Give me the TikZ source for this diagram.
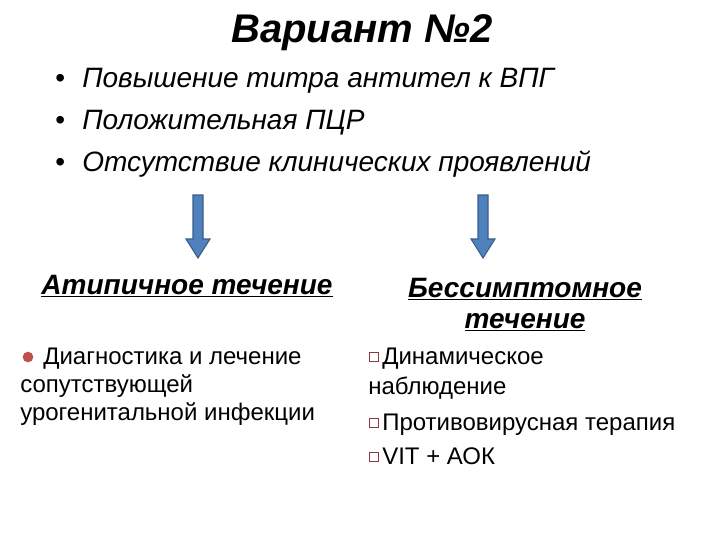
\documentclass[tikz,border=0pt]{standalone}
\usepackage{fontspec}
\setmainfont{Liberation Sans}
\usetikzlibrary{arrows.meta}
\definecolor{arrfill}{HTML}{4F81BD}
\definecolor{arrline}{HTML}{385D8A}
\definecolor{bulred}{HTML}{C0504D}
\definecolor{sqline}{HTML}{8B3A3A}
\tikzset{
  txt/.style={anchor=base west, inner sep=0pt, font=\fontsize{21}{25}\selectfont\itshape},
  low/.style={anchor=base west, inner sep=0pt, font=\fontsize{18}{22}\selectfont},
  head/.style={inner sep=0pt, font=\fontsize{21}{25}\selectfont\bfseries\itshape, align=center},
  bigarrow/.style={fill=arrfill, draw=arrline, line width=0.8pt},
  sqb/.style={draw=sqline, fill=white, line width=1pt, minimum size=6.5pt, inner sep=0pt}
}
\begin{document}
\begin{tikzpicture}[x=0.75pt,y=-0.75pt]
\useasboundingbox (0,0) rectangle (720,540);
\node[inner sep=0pt, font=\fontsize{30}{36}\selectfont\bfseries\itshape] (title) at (362,33) {Вариант №2};
\node[txt] (b1) at (82,87) {Повышение титра антител к ВПГ};
\node[txt] (b2) at (82,129) {Положительная ПЦР};
\node[txt] (b3) at (82,171) {Отсутствие клинических проявлений};
\foreach \y/\n in {87/d1,129/d2,171/d3}{
  \node[anchor=base west, inner sep=0pt, font=\fontsize{21}{25}\selectfont] (\n) at (55,\y) {•};
}
% arrows
\foreach \cx/\n in {198/al,483/ar}{
  \draw[bigarrow] (\cx-5,195) -- (\cx+5,195) -- (\cx+5,239) -- (\cx+12,239) -- (\cx,258) -- (\cx-12,239) -- (\cx-5,239) -- cycle;
  \coordinate (\n) at (\cx,258);
}
\node[head] (h1) at (187,286) {\underline{Атипичное течение}};
\node[head] (h2) at (525,289) {\underline{Бессимптомное}};
\node[head] (h3) at (525,322) {\underline{течение}};
% left text
\node[circle, fill=bulred, inner sep=0pt, minimum size=8pt] (rb) at (28,357) {};
\node[low] (l1) at (43,364) {Диагностика и лечение};
\node[low] (l2) at (20,392) {сопутствующей};
\node[low] (l3) at (20,420) {урогенитальной инфекции};
% right text
\node[sqb] (s1) at (374,357) {};
\node[low] (r1) at (382,364) {Динамическое};
\node[low] (r2) at (368,394) {наблюдение};
\node[sqb] (s2) at (374,423) {};
\node[low] (r3) at (382,430) {Противовирусная терапия};
\node[sqb] (s3) at (374,457) {};
\node[low] (r4) at (382,464) {VIT + АОК};
\end{tikzpicture}
\end{document}
